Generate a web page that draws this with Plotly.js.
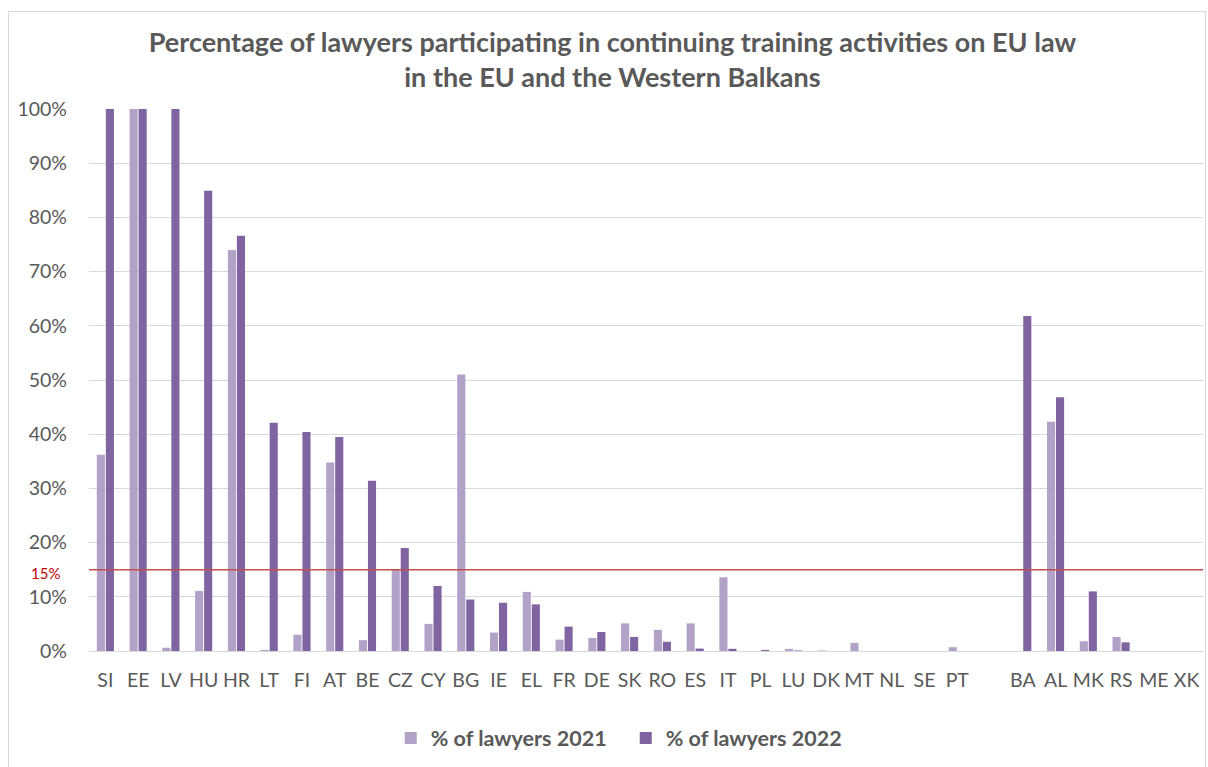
<!DOCTYPE html>
<html>
<head>
<meta charset="utf-8">
<script src="https://cdn.plot.ly/plotly-3.0.1.min.js"></script>
<style>
  html, body { margin: 0; padding: 0; background: #fff; }
  #wrap { position: relative; width: 1208px; height: 767px; }
  #chart { position: absolute; left: 0; top: 0; width: 1208px; height: 767px; }
  #frame { position: absolute; left: 8px; top: 11px; width: 1196px; height: 770px; border: 1px solid #D9D9D9; pointer-events: none; }
</style>
</head>
<body>
<div id="wrap">
  <div id="chart"></div>
  <div id="frame"></div>
</div>
<script>
const countries = ["SI","EE","LV","HU","HR","LT","FI","AT","BE","CZ","CY","BG","IE","EL","FR","DE","SK","RO","ES","IT","PL","LU","DK","MT","NL","SE","PT"," ","BA","AL","MK","RS","ME","XK"];
const lawyers2021 = [36.2,100,0.6,11.1,74,0.2,3,34.8,2,15,5,51,3.4,10.9,2.1,2.4,5.1,3.9,5.1,13.6,0,0.4,0.1,1.5,0,0,0.7,null,0,42.3,1.8,2.6,0,0];
const lawyers2022 = [100,100,100,84.9,76.6,42.1,40.4,39.5,31.4,19,12,9.5,8.9,8.6,4.5,3.5,2.6,1.7,0.45,0.4,0.2,0.1,0,0,0,0,0,null,61.8,46.8,11,1.6,0,0];
const yTicks = [0,10,20,30,40,50,60,70,80,90,100];
const threshold = 15;
const seriesNames = ["% of lawyers 2021","% of lawyers 2022"];

const FONT = "Lato, 'Open Sans', sans-serif";
const GREY = "#595959";

const traces = [
  { type: "bar", name: seriesNames[0], x: countries, y: lawyers2021, marker: { color: "#B3A2C7" }, hoverinfo: "x+y" },
  { type: "bar", name: seriesNames[1], x: countries, y: lawyers2022, marker: { color: "#8064A2" }, hoverinfo: "x+y" }
];

const layout = {
  width: 1208, height: 767,
  paper_bgcolor: "#fff", plot_bgcolor: "#fff",
  margin: { l: 89, r: 5, t: 109, b: 116 },
  font: { family: FONT, color: GREY, size: 19 },
  title: {
    text: "<b>Percentage of lawyers participating in continuing training activities on EU law<br>in the EU and the Western Balkans</b>",
    font: { family: FONT, size: 27, color: GREY },
    xref: "container", x: 0.507, xanchor: "center",
    yref: "container", y: 1 - 52/767, yanchor: "middle"
  },
  barmode: "group",
  bargap: 0.45,
  bargroupgap: 0.1,
  xaxis: {
    type: "category",
    categoryorder: "array",
    categoryarray: countries,
    showgrid: false,
    showline: false,
    ticks: "",
    tickfont: { family: FONT, size: 19.5, color: GREY },
    ticklabelstandoff: 15
  },
  yaxis: {
    range: [0, 100],
    tickvals: yTicks,
    ticktext: yTicks.map(v => v + "%"),
    showgrid: true,
    gridcolor: "#D9D9D9",
    gridwidth: 1,
    zeroline: true,
    zerolinecolor: "#D9D9D9",
    zerolinewidth: 1,
    showline: false,
    ticks: "",
    tickfont: { family: FONT, size: 19.5, color: GREY },
    ticklabelstandoff: 21
  },
  shapes: [{
    type: "line", xref: "paper", x0: 0, x1: 1, yref: "y", y0: threshold, y1: threshold,
    line: { color: "#C0504D", width: 1.5 }
  }],
  annotations: [{
    xref: "paper", x: 0, xanchor: "right", xshift: -27,
    yref: "y", y: threshold, yanchor: "middle", yshift: -3,
    text: threshold + "%", showarrow: false,
    font: { family: FONT, size: 15, color: "#C00000" }
  }],
  showlegend: true,
  legend: {
    orientation: "h",
    xref: "container", x: 0.518, xanchor: "center",
    yref: "container", y: 1 - 738/767, yanchor: "middle",
    font: { family: FONT, size: 21.5, color: GREY, weight: "bold" },
    itemwidth: 30,
    entrywidth: 190,
    entrywidthmode: "pixels",
    traceorder: "normal"
  }
};

Plotly.newPlot("chart", traces, layout, { displayModeBar: false, staticPlot: true });
</script>
</body>
</html>
